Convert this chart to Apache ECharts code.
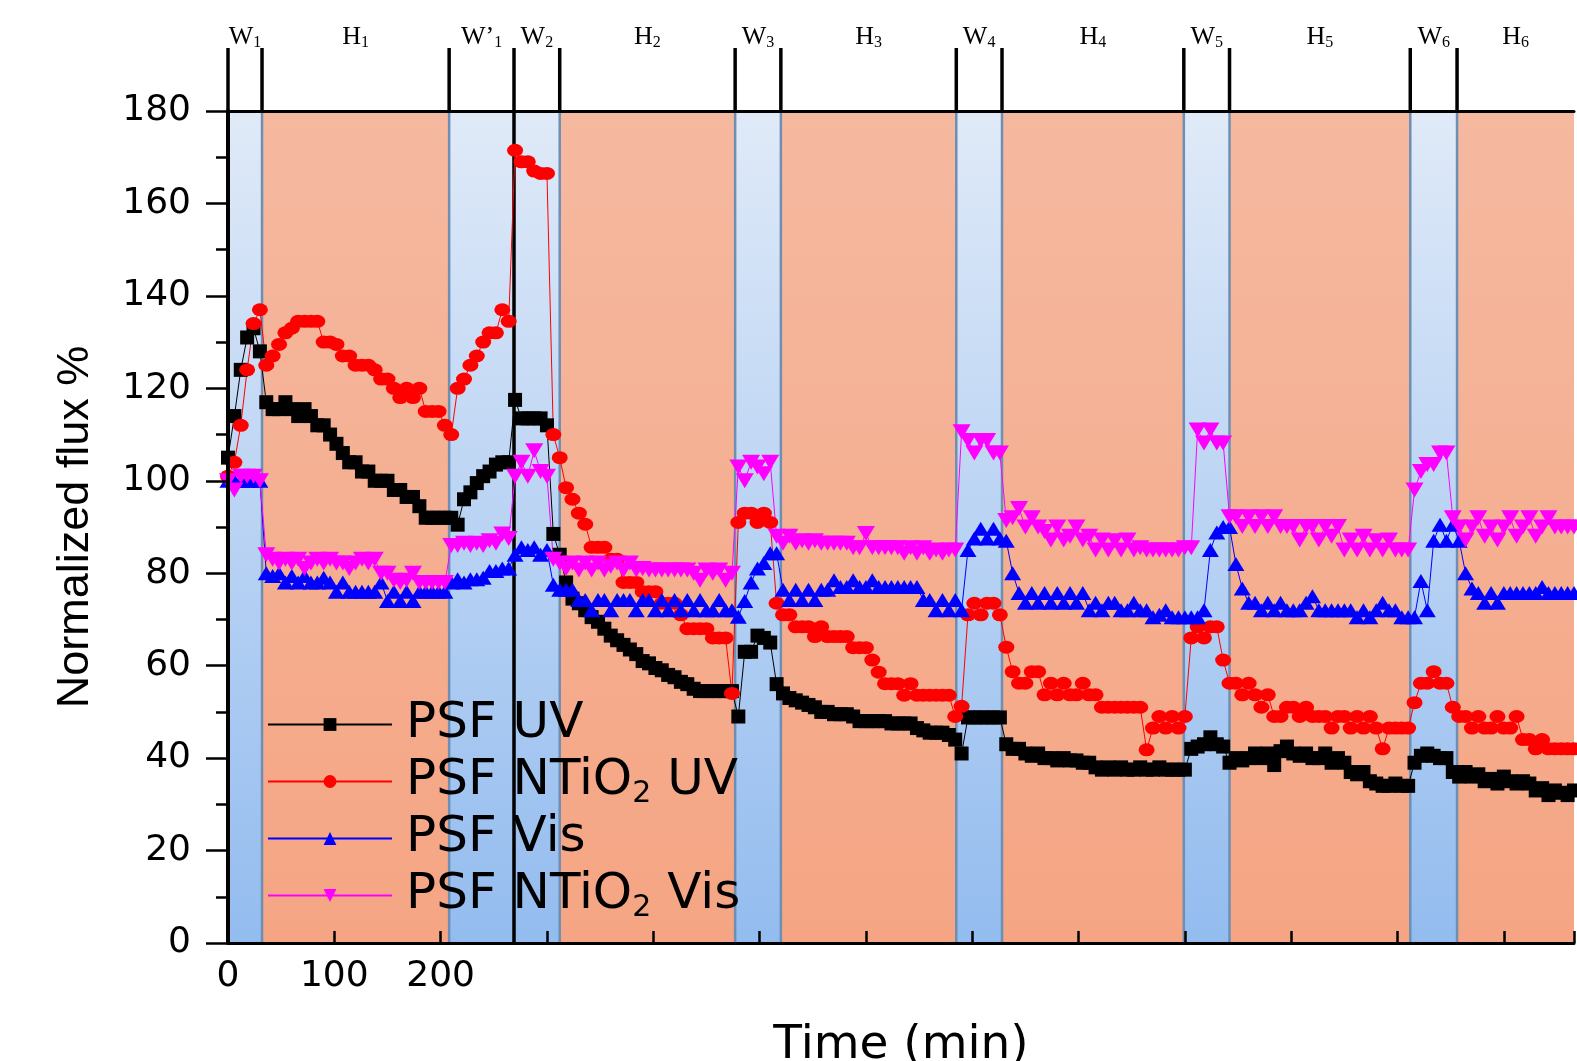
<!DOCTYPE html>
<html><head><meta charset="utf-8">
<script src="https://cdn.jsdelivr.net/npm/echarts@6/dist/echarts.min.js"></script>
<style>html,body{margin:0;padding:0;background:#fff}#c{width:1577px;height:1061px}</style>
</head><body><div id="c"></div>
<script>
// sampling times (min)
const times = [
0,6,12,18,24,30,36,42,48,54,
60,66,72,78,84,90,96,102,108,114,
120,126,132,138,144,150,156,162,168,174,
180,186,192,198,204,210,216,222,228,234,
240,246,252,258,264,270,276,282,288,294,
300,306,312,318,324,330,336,342,348,354,
360,366,372,378,384,390,396,402,408,414,
420,426,432,438,444,450,456,462,468,474,
480,486,492,498,504,510,516,522,528,534,
540,546,552,558,564,570,576,582,588,594,
600,606,612,618,624,630,636,642,648,654,
660,666,672,678,684,690,696,702,708,714,
720,726,732,738,744,750,756,762,768,774,
780,786,792,798,804,810,816,822,828,834,
840,846,852,858,864,870,876,882,888,894,
900,906,912,918,924,930,936,942,948,954,
960,966,972,978,984,990,996,1002,1008,1014,
1020,1026,1032,1038,1044,1050,1056,1062,1068,1074,
1080,1086,1092,1098,1104,1110,1116,1122,1128,1134,
1140,1146,1152,1158,1164,1170,1176,1182,1188,1194,
1200,1206,1212,1218,1224,1230,1236,1242,1248,1254,
1260,1266];

const psfUV = [
105,114,124,131,133,128,117,115.5,115.5,117,
115.5,114,115.5,114,112,112,110,108,106,104,
104,102,102,100,100,100,98,98,96.5,96.5,
94.5,92,92,92,92,92,90.5,96,97.5,99.5,
101,102,103.5,104,104,117.5,113.5,113.5,113.5,113.5,
112,88.5,84,78,74.5,73.5,72,70.5,69.5,68,
66.5,65.5,64.5,63.5,62.5,61,60.5,59.5,59,58,
57.5,56.5,56,55,54.5,54.5,54.5,54.5,54.5,54.5,
49,63,63,66.5,66,65,56,54,53,52.5,
52,51.5,51,50,50,49.5,49.5,49.5,49,48,
48,48,48,48,47.5,47.5,47.5,47.5,46.5,46,
45.5,45.5,45.5,45,44,41,48.8,48.8,48.8,48.8,
48.8,48.8,43,42,42,41,40.5,41,40,40,
39.5,40,39.5,39.5,39,39,38,37.5,38,37.5,
38,37.5,37.5,38,37.5,37.5,38,37.5,37.5,37.5,
37.5,42,42.5,43,44.5,43,42.5,39,40,39.5,
40,41,40,41,38.5,41.5,42.5,41,40.5,41,
40,40,41,39,40,39,37,36.5,37,35,
34.5,34,34,34.5,34,34,39,40.5,41,40.5,
40,40,37,36,37,36,36.5,35,35.5,34.5,
36,35,34.5,35,34.5,33,33.5,32,33,32.5,
32,33];

const psfNTiO2UV = [
101,104,112,124,134,137,125,127,129.5,132,
133,134.5,134.5,134.5,134.5,130,130,129.5,127,127,
125,125,125,124,122,122,120,118,120,118,
120,115,115,115,112,110,120,122,125,127,
130,132,132,137,134.5,171.5,169,169,167,166.5,
166.5,110,105,98.5,96,93,90.6,85.6,85.6,85.6,
83,83,78,78,78,76,76,76,73.5,73.5,
73.5,71,68,68,68,68,66,66,66,54,
91,93,93,91,93,91,73.5,71,71,68.4,
68.4,68.4,66.3,68.4,66.3,66.3,66.3,66.3,63.9,63.9,
63.9,61.2,58.6,56.1,56.1,56.1,53.6,56.1,53.6,53.6,
53.6,53.6,53.6,53.6,49,51.2,71,73.5,71,73.5,
73.5,71,64,58.7,56.2,56.2,58.7,58.7,53.7,56.2,
53.7,56.2,53.7,53.7,56.2,53.7,53.7,51,51,51,
51,51,51,51,41.8,46.5,49,46.5,49,46.5,
49,66,68.4,66,68.4,68.4,61.2,56.2,56.2,53.7,
56.2,53.7,51,53.7,49,49,51,51,49,51,
49,49,49,46.5,49,49,46.5,49,46.5,49,
46.5,42,46.5,46.5,46.5,46.5,52,56.2,56.2,58.7,
56.2,56.2,51,49,49,46.5,49,46.5,46.5,49,
46.5,46.5,49,44,44,42,44,42,42,42,
42,42];

const psfVis = [
100,100,100,100,100,100,80,79.4,80,78,
79.4,78,79.4,78,78,79,78,76,78,76,
76,76,76,76,78,74,76,74,76,74,
76,76,76,76,76,78,78.7,78,78.7,78.7,
79,80.5,80.5,81,81,84,85.6,85,85.6,84,
85,77.5,76.4,76.4,76.4,74.2,74.2,72,74.2,74.2,
72,74.2,74.2,74.2,72,74.2,74.2,72,74.2,72,
74.2,72,74.2,72,74.2,72,72,74.2,72,72,
70.6,74,78,81,82.2,84.3,84.3,76.4,74.2,76.4,
74.2,76.4,74.2,76.4,76.4,78.5,77,77,78.5,77,
77,78.5,77,77,77,77,77,77,77,74.2,
74.2,72,74.2,72,74.2,72,85,87.5,89.6,87.5,
89.6,87.5,87,80,75.7,73.6,75.7,73.6,75.7,73.6,
75.7,73.6,75.7,73.6,75.7,72,73.6,72,73.6,73.6,
72,72,73.6,72,72,70.5,71,72,70.5,70.5,
70.5,70.5,70.5,72,85,88.8,90,90,82,76.7,
73.6,73.6,72,73.6,72,73.6,72,72,72,73.6,
75,72,72,72,72,72,72,70.5,72,70.5,
72,73.6,72,72,70.5,70.5,70.5,78.3,72,87,
90.5,87,90.5,87,80,76.7,75.7,73.6,75.7,73.6,
75.7,75.7,75.7,75.7,75.7,75.7,77,75.7,75.7,75.7,
75.7,75.7];

const psfNTiO2Vis = [
100,98,101,101,101,100,84,83,82.2,83,
82.2,83,81,82.2,83,82.2,83,82.2,82.2,81,
82.2,83,82.2,83,80,80,78.5,78,78.5,80,
78,78,78,78,78,86,86,86.5,86,86.5,
86,87,86.5,88.5,87.5,101,104,101,106.5,102,
101,83,82.2,81,82.2,80.7,82.2,80.7,82.2,80.7,
81.5,82.2,80.7,82.2,80.7,81,80.7,80.7,80.7,80.7,
80.7,80.7,80.7,80,78.5,80.7,80,80.7,78.5,80,
103,100,104,103,101.5,104,88,86.5,88,86.5,
87,86.5,87,86.5,86.5,86.5,86.5,86.5,85.5,85.5,
88.6,85.5,85.5,85.5,85.5,85.5,84.3,85.5,84.3,85.5,
84.3,85,84.3,85,85,110.6,108.7,106,108.7,108.7,
106,106,91.4,92,94,90,92,90,89,87.2,
90,87.2,88,90,87.2,88,85,87.2,85,87,
85,87.2,85,85.5,85,85,85,85,85,85,
85.5,85.5,111,108.2,111,108.2,108.2,92.2,92.2,90.1,
92.2,90.1,92.2,90.1,92.2,90.1,90.1,90.1,87.2,90.1,
90.1,87.2,90.1,88,90.1,85,87.2,85,88,85,
87,85,87.2,85,85,85,98,102,103.5,103.5,
106,106,92,90,87.2,90,92,88,90,87.2,
90,92,88,90,92,88,90,92,90,90,
90,90];

// washing (W) / humic (H) periods
const bandEdges = [0,32,208,269,312,477,520,685,728,899,942,1112,1156,1266];
const bandNames = ['W','H','W\u2019','W','H','W','H','W','H','W','H','W','H'];
const bandSubs  = ['1','1','1','2','2','3','3','4','4','5','5','6','6'];
const blackEdges = [0,269];
const xLabelsShown = [0,100,200];
const yTicks = {min:0, max:180, interval:20};

const bandData = bandNames.map((n,i)=>[bandEdges[i], bandEdges[i+1]]);

const W_FILL = {type:'linear',x:0,y:0,x2:0,y2:1,colorStops:[{offset:0,color:'#e0eaf8'},{offset:1,color:'#93bcef'}]};
const H_FILL = {type:'linear',x:0,y:0,x2:0,y2:1,colorStops:[{offset:0,color:'#f5b9a0'},{offset:1,color:'#f5a583'}]};

function renderFill(params, api){
  const i = params.dataIndex;
  const a = api.coord([api.value(0), yTicks.max]);
  const b = api.coord([api.value(1), yTicks.min]);
  return {type:'rect', shape:{x:a[0], y:a[1], width:b[0]-a[0], height:b[1]-a[1]},
          style:{fill: bandNames[i][0]==='W' ? W_FILL : H_FILL}};
}
function renderEdge(params, api){
  const i = params.dataIndex;
  const s = api.value(0), e = api.value(1);
  const a = api.coord([s, yTicks.max]);
  const b = api.coord([s, yTicks.min]);
  const c = api.coord([e, yTicks.max]);
  const isBlack = blackEdges.indexOf(s) >= 0;
  const mid = (a[0]+c[0])/2;
  const children = [
    {type:'line', shape:{x1:a[0], y1:a[1], x2:b[0], y2:b[1]},
     style:{stroke: isBlack ? '#000' : '#6d8fb4', lineWidth: isBlack ? 3.5 : 2.5}},
    {type:'line', shape:{x1:a[0], y1:a[1], x2:a[0], y2:a[1]-63},
     style:{stroke:'#000', lineWidth:3.5}},
    {type:'text', x: mid, y: a[1]-74,
     style:{text:'{m|'+bandNames[i]+'}{s|'+bandSubs[i]+'}', align:'center', verticalAlign:'middle',
            fill:'#000',
            rich:{m:{fontFamily:'Liberation Serif', fontSize:26, lineHeight:28, fill:'#000', verticalAlign:'middle'},
                  s:{fontFamily:'Liberation Serif', fontSize:16, lineHeight:28, fill:'#000', verticalAlign:'bottom'}}}}
  ];
  return {type:'group', children};
}

const mk = (arr) => times.map((t,i)=>[t, arr[i]]);
const FONT = 'DejaVu Sans';

const option = {
  animation:false,
  backgroundColor:'#fff',
  grid:{left:228, right:3, top:111, bottom:118, containLabel:false, outerBoundsMode:'none'},
  xAxis:[{
    type:'value', min:0, max:1266, interval:100, z:5,
    name:'Time (min)', nameLocation:'middle', nameGap:79,
    nameTextStyle:{fontFamily:FONT, fontSize:47, color:'#000'},
    axisLine:{show:true, lineStyle:{color:'#000', width:3}},
    axisTick:{show:true, inside:true, length:12, lineStyle:{color:'#000', width:2.5}},
    axisLabel:{show:true, margin:16, fontFamily:FONT, fontSize:36, color:'#000',
      formatter:(v)=> xLabelsShown.indexOf(v)>=0 ? String(v) : ''},
    splitLine:{show:false}
  },{
    type:'value', position:'top', min:0, max:1266, z:5,
    axisLine:{show:true, lineStyle:{color:'#000', width:3}},
    axisTick:{show:false}, axisLabel:{show:false}, splitLine:{show:false}
  }],
  yAxis:{
    type:'value', min:yTicks.min, max:yTicks.max, interval:yTicks.interval, z:5,
    name:'Normalized flux %', nameLocation:'middle', nameGap:130, nameRotate:90,
    nameTextStyle:{fontFamily:'Liberation Sans', fontSize:45, color:'#000'},
    axisLine:{show:true, lineStyle:{color:'#000', width:4}},
    axisTick:{show:true, inside:false, length:22, lineStyle:{color:'#000', width:2.5}},
    minorTick:{show:true, splitNumber:2, length:12, lineStyle:{color:'#000', width:2.5}},
    axisLabel:{margin:37, fontFamily:FONT, fontSize:36, color:'#000'},
    splitLine:{show:false}, minorSplitLine:{show:false}
  },
  legend:{
    orient:'vertical', left:262, top:692, itemGap:2, itemWidth:124, itemHeight:16,
    data:['PSF UV','PSF NTiO2 UV','PSF Vis','PSF NTiO2 Vis'],
    formatter:(name)=> name.replace('O2','O{s|2}'),
    textStyle:{fontFamily:FONT, fontSize:50, color:'#000', lineHeight:55, padding:[0,0,0,9],
      rich:{s:{fontFamily:FONT, fontSize:30, color:'#000', lineHeight:55, verticalAlign:'bottom'}}}
  },
  series:[
    {type:'custom', name:'bands', coordinateSystem:'cartesian2d', renderItem:renderFill, data:bandData, z:1, silent:true, encode:{x:[0,1]}},
    {type:'custom', name:'edges', coordinateSystem:'cartesian2d', renderItem:renderEdge, data:bandData, z:2, silent:true, clip:false, encode:{x:[0,1]}},
    {type:'line', name:'PSF UV', data:mk(psfUV), z:3, symbol:'rect', symbolSize:14,
     lineStyle:{color:'#000', width:1}, itemStyle:{color:'#000'}},
    {type:'line', name:'PSF NTiO2 UV', data:mk(psfNTiO2UV), z:3, symbol:'circle', symbolSize:[16,13],
     lineStyle:{color:'#ff0000', width:1}, itemStyle:{color:'#ff0000'}},
    {type:'line', name:'PSF Vis', data:mk(psfVis), z:3, symbol:'triangle', symbolSize:[17,14],
     lineStyle:{color:'#0000ff', width:1}, itemStyle:{color:'#0000ff'}},
    {type:'line', name:'PSF NTiO2 Vis', data:mk(psfNTiO2Vis), z:3, symbol:'path://M0,0L20,0L10,17Z', symbolSize:[18,15],
     lineStyle:{color:'#ff00ff', width:1}, itemStyle:{color:'#ff00ff'}}
  ]
};
const chart = echarts.init(document.getElementById('c'), null, {renderer:'canvas'});
chart.setOption(option);
</script>
</body></html>
